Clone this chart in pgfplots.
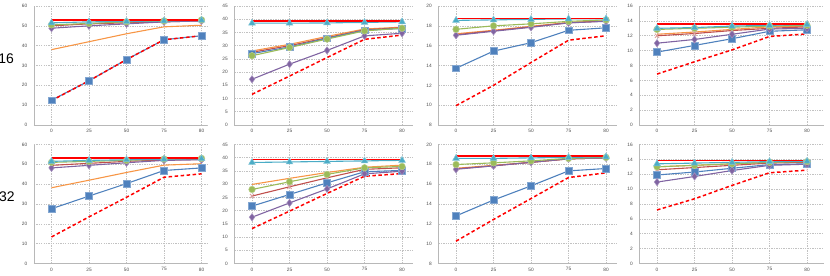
\documentclass[border=0pt]{standalone}
\usepackage{pgfplots}
\pgfplotsset{compat=1.18}
\usepackage{pgfplotstable}
\usepackage{fontspec}
\setmainfont{Liberation Sans}

\definecolor{cBlue}{HTML}{4F81BD}
\definecolor{cBrown}{HTML}{C0504D}
\definecolor{cGreen}{HTML}{9BBB59}
\definecolor{cPurple}{HTML}{8064A2}
\definecolor{cTeal}{HTML}{4BACC6}
\definecolor{cOrange}{HTML}{F79646}
\definecolor{cRed}{HTML}{FF0000}

% columns: blue brown green purple teal orange red dash
\pgfplotstableread{
x blue brown green purple teal orange red dash
0 12.5 50.0 50.5 48.8 51.5 38.0 53.0 12.3
1 22.3 51.0 51.2 50.0 52.0 42.0 53.0 22.3
2 33.0 51.5 52.0 51.0 52.2 46.0 53.0 33.0
3 43.0 52.0 52.5 52.0 52.5 49.5 53.0 43.0
4 45.0 52.5 53.0 52.5 52.8 50.3 53.0 45.0
}\tA
\pgfplotstableread{
x blue brown green purple teal orange red dash
0 27.0 27.5 26.2 17.3 38.5 28.0 39.3 11.6
1 29.5 30.0 29.3 23.0 38.5 30.5 39.3 18.5
2 32.8 33.0 32.5 28.2 38.6 33.5 39.3 25.5
3 35.8 36.0 35.6 33.7 38.8 36.3 39.3 32.4
4 36.5 36.8 36.6 34.7 39.0 37.0 39.3 34.0
}\tB
\pgfplotstableread{
x blue brown green purple teal orange red dash
0 13.72 17.1 17.65 17.05 18.55 17.2 18.75 9.95
1 15.45 17.5 18.0 17.45 18.6 17.55 18.75 12.0
2 16.3 17.9 18.2 17.85 18.65 17.95 18.75 14.3
3 17.55 18.3 18.45 18.3 18.7 18.35 18.75 16.55
4 17.8 18.5 18.6 18.45 18.7 18.5 18.75 17.0
}\tC
\pgfplotstableread{
x blue brown green purple teal orange red dash
0 9.8 12.0 12.85 11.0 13.0 12.2 13.55 6.85
1 10.7 12.3 13.0 11.5 13.1 12.5 13.55 8.5
2 11.6 12.7 13.15 12.2 13.3 12.85 13.55 10.1
3 12.6 13.0 13.3 12.9 13.4 13.2 13.55 11.9
4 12.8 13.2 13.4 13.0 13.5 13.3 13.55 12.25
}\tD
\pgfplotstableread{
x blue brown green purple teal orange red dash
0 27.6 49.5 51.0 48.2 51.5 38.2 53.2 13.4
1 34.0 50.5 51.5 49.5 52.0 42.0 53.2 23.5
2 40.3 51.5 52.0 50.8 52.3 45.9 53.2 33.4
3 46.9 52.2 52.7 52.0 52.6 49.6 53.2 43.5
4 48.2 52.5 53.0 52.3 52.8 50.3 53.2 45.2
}\tE
\pgfplotstableread{
x blue brown green purple teal orange red dash
0 21.7 25.5 28.0 17.5 38.2 29.9 39.3 13.2
1 26.1 29.0 30.9 22.9 38.4 32.2 39.3 19.8
2 30.5 32.4 33.7 28.2 38.6 34.4 39.3 26.5
3 34.7 35.6 36.2 33.9 38.8 36.4 39.3 33.0
4 35.2 36.2 36.7 34.9 39.0 37.2 39.3 34.0
}\tF
\pgfplotstableread{
x blue brown green purple teal orange red dash
0 12.8 17.55 17.98 17.5 18.6 17.6 18.85 10.25
1 14.4 17.85 18.15 17.85 18.6 17.9 18.85 12.44
2 15.83 18.2 18.35 18.2 18.65 18.2 18.85 14.55
3 17.34 18.55 18.6 18.55 18.7 18.55 18.85 16.67
4 17.58 18.65 18.7 18.65 18.75 18.65 18.85 17.14
}\tG
\pgfplotstableread{
x blue brown green purple teal orange red dash
0 11.9 12.6 13.0 10.95 13.4 13.0 13.85 7.2
1 12.3 12.9 13.2 11.7 13.5 13.2 13.85 8.7
2 12.8 13.2 13.4 12.5 13.6 13.4 13.85 10.5
3 13.3 13.5 13.6 13.2 13.7 13.6 13.85 12.2
4 13.4 13.6 13.7 13.35 13.75 13.7 13.85 12.55
}\tH

\pgfplotsset{
  panel/.style={
    scale only axis, height=119bp, xmin=-0.47,
    xtick={0,1,2,3,4}, xticklabels={0,25,50,75,80},
    axis x line*=bottom, axis y line*=left,
    axis line style={draw=black!28, line width=0.7bp},
    grid=major,
    major grid style={draw=black!24, dash pattern=on 1.3bp off 1.1bp, line width=0.6bp},
    tick style={draw=none},
    /pgf/number format/assume math mode=true,
    ticklabel style={font=\fontsize{4.8}{5}\selectfont, text=black!70, inner sep=0pt},
    yticklabel style={xshift=-6.5bp},
    xticklabel style={yshift=-4bp},
  },
  sBlue/.style={draw=cBlue, line width=1.1bp, mark=square*, mark size=3.4bp,
    mark options={fill=cBlue, draw=cBlue!70!white, line width=0.5bp, solid}},
  sBrown/.style={draw=cBrown, line width=1.1bp, mark=x, mark size=3bp,
    mark options={draw=cBrown!55!white, line width=0.9bp, solid}},
  sGreen/.style={draw=cGreen, line width=1.1bp, mark=*, mark size=3.3bp,
    mark options={fill=cGreen, draw=cGreen!70!white, line width=0.5bp, solid}},
  sPurple/.style={draw=cPurple, line width=1.1bp, mark=diamond*, mark size=3.7bp,
    mark options={fill=cPurple, draw=cPurple!70!white, line width=0.5bp, solid}},
  sTeal/.style={draw=cTeal, line width=1.1bp, mark=triangle*, mark size=3.9bp,
    mark options={fill=cTeal, draw=cTeal!70!white, line width=0.5bp, solid}},
  sOrange/.style={draw=cOrange, line width=1.1bp, mark=none},
  sRed/.style={draw=cRed, line width=1.5bp, mark=none},
  sDash/.style={draw=cRed, line width=1.5bp, mark=none, dash pattern=on 3.5bp off 2.5bp},
}

\newcommand{\panelplots}[1]{%
  \addplot[sOrange] table[x=x,y=orange]{#1};
  \addplot[sBrown] table[x=x,y=brown]{#1};
  \addplot[sBlue] table[x=x,y=blue]{#1};
  \addplot[sPurple] table[x=x,y=purple]{#1};
  \addplot[sGreen] table[x=x,y=green]{#1};
  \addplot[sTeal] table[x=x,y=teal]{#1};
  \addplot[sRed] table[x=x,y=red]{#1};
  \addplot[sDash] table[x=x,y=dash]{#1};
}

\begin{document}
\begin{tikzpicture}
\useasboundingbox (0bp,0bp) rectangle (830bp,276bp);

% Row 1
\begin{axis}[panel, at={(33.9bp,151bp)}, anchor=south west, width=173.25bp, xmax=4.15,
  ymin=0, ymax=60, ytick distance=10]
\panelplots{\tA}
\end{axis}
\begin{axis}[panel, at={(234.4bp,151bp)}, anchor=south west, width=178.9bp, xmax=4.3,
  ymin=0, ymax=45, ytick distance=5]
\panelplots{\tB}
\end{axis}
\begin{axis}[panel, at={(438.4bp,151bp)}, anchor=south west, width=178.9bp, xmax=4.3,
  ymin=8, ymax=20, ytick distance=2]
\panelplots{\tC}
\end{axis}
\begin{axis}[panel, at={(639.4bp,151bp)}, anchor=south west, width=184.5bp, xmax=4.45,
  ymin=0, ymax=16, ytick distance=2]
\panelplots{\tD}
\end{axis}

% Row 2
\begin{axis}[panel, at={(33.9bp,12.5bp)}, anchor=south west, width=173.25bp, xmax=4.15,
  ymin=0, ymax=60, ytick distance=10]
\panelplots{\tE}
\end{axis}
\begin{axis}[panel, at={(234.4bp,12.5bp)}, anchor=south west, width=178.9bp, xmax=4.3,
  ymin=0, ymax=45, ytick distance=5]
\panelplots{\tF}
\end{axis}
\begin{axis}[panel, at={(438.4bp,12.5bp)}, anchor=south west, width=178.9bp, xmax=4.3,
  ymin=8, ymax=20, ytick distance=2]
\panelplots{\tG}
\end{axis}
\begin{axis}[panel, at={(639.4bp,12.5bp)}, anchor=south west, width=184.5bp, xmax=4.45,
  ymin=0, ymax=16, ytick distance=2]
\panelplots{\tH}
\end{axis}

\node[anchor=east, inner sep=0pt, font=\fontsize{14}{14}\selectfont] at (14.2bp,217.7bp) {16};
\node[anchor=east, inner sep=0pt, font=\fontsize{14}{14}\selectfont] at (14.8bp,79.2bp) {32};
\end{tikzpicture}
\end{document}
